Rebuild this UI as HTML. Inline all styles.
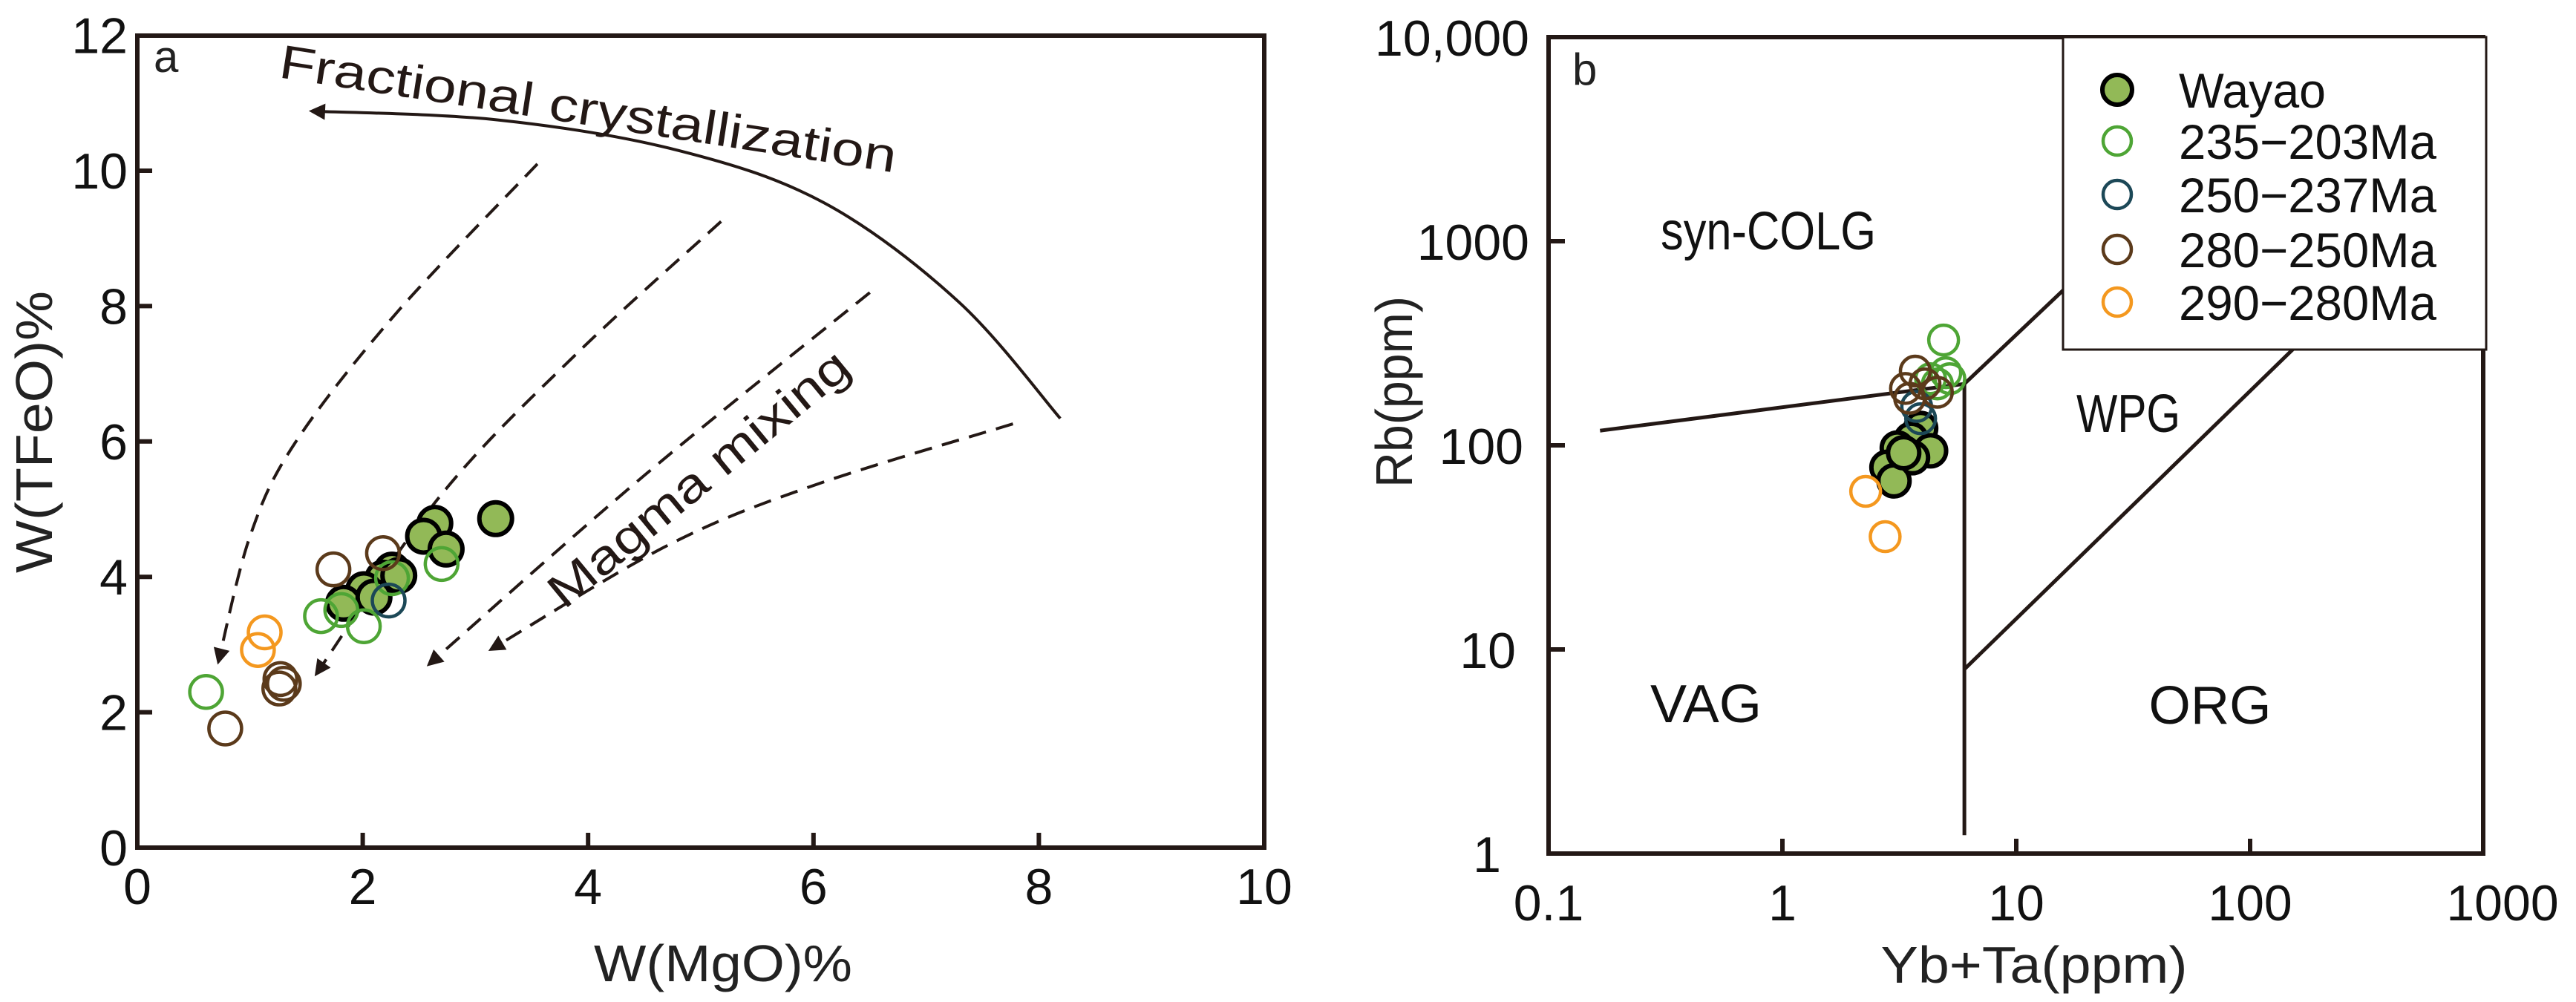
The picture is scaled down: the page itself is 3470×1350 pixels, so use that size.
<!DOCTYPE html>
<html><head><meta charset="utf-8"><style>
html,body{margin:0;padding:0;background:#fff;}
svg{display:block;font-family:"Liberation Sans",Arial,sans-serif;}
</style></head><body>
<svg id="fig" width="3470" height="1350" viewBox="0 0 3470 1350" xmlns="http://www.w3.org/2000/svg">
<defs>
<marker id="ah" viewBox="0 0 10 10" refX="8" refY="5" markerWidth="24" markerHeight="22" orient="auto-start-reverse" markerUnits="userSpaceOnUse"><path d="M0,0 L10,5 L0,10 z" fill="#231815"/></marker>
</defs>
<g id="panelA"></g>
<g id="panelB"></g>
</svg>
<script>
// ---------- Panel a data ----------
const aWayaoX = [2.64,2.54,2.74,3.18,2.26,2.18,2.01,1.83,2.10,2.32];
const aWayaoY = [4.79,4.60,4.41,4.86,4.10,3.98,3.81,3.61,3.70,4.02];
const aG1X = [0.61,1.63,1.81,2.01,2.70,2.26];
const aG1Y = [2.30,3.42,3.51,3.27,4.19,3.98];
const aG2X = [2.23];
const aG2Y = [3.65];
const aG3X = [0.78,1.27,1.26,1.74,2.18,1.30];
const aG3Y = [1.76,2.49,2.35,4.11,4.35,2.42];
const aG4X = [1.13,1.07];
const aG4Y = [3.18,2.92];
const aXTicks = [0,2,4,6,8,10];
const aYTicks = [0,2,4,6,8,10,12];
// ---------- Panel b data ----------
const bWayaoX = [3.9,3.55,4.3,3.1,3.6,2.8,3.0,3.3];
const bWayaoY = [121,107,94,97,87,78,67,92];
const bG1X = [4.89,5.0,5.2,4.3,4.6];
const bG1Y = [328,227,212,212,200];
const bG2X = [3.75,3.9];
const bG2Y = [155,135];
const bG3X = [3.7,3.36,3.5,4.6,4.07];
const bG3Y = [231,190,170,182,200];
const bG4X = [2.27,2.75];
const bG4Y = [59.5,35.7];
const bXTicks = [0.1,1,10,100,1000];
const bXTickLabels = ["0.1","1","10","100","1000"];
const bYTicks = [1,10,100,1000,10000];
const bYTickLabels = ["1","10","100","1000","10,000"];

const NS="http://www.w3.org/2000/svg";
function mk(parent,tag,attrs){const e=document.createElementNS(NS,tag);for(const k in attrs)e.setAttribute(k,attrs[k]);if(attrs.textLength)e.setAttribute('lengthAdjust','spacingAndGlyphs');parent.appendChild(e);return e;}
const COL={wayao:"#92b957",g1:"#4ea535",g2:"#1c4857",g3:"#5b3a1b",g4:"#f4981f",ink:"#231815"};

// ---------- Panel a ----------
const A=document.getElementById('panelA');
const xA=v=>185+v*151.8, yA=v=>1142-v*91.2;
function smooth(pts){let d="M"+pts[0][0]+","+pts[0][1];for(let i=0;i<pts.length-1;i++){const p0=pts[Math.max(i-1,0)],p1=pts[i],p2=pts[i+1],p3=pts[Math.min(i+2,pts.length-1)];const c1=[p1[0]+(p2[0]-p0[0])/6,p1[1]+(p2[1]-p0[1])/6],c2=[p2[0]-(p3[0]-p1[0])/6,p2[1]-(p3[1]-p1[1])/6];d+=` C${c1[0]},${c1[1]} ${c2[0]},${c2[1]} ${p2[0]},${p2[1]}`;}return d;}
const fcCurve=[[8.19,6.34],[7.29,8.06],[6.1,9.52],[4.8,10.3],[3.2,10.75],[1.55,10.88]];
const mix1=[[3.55,10.1],[2.3,7.9],[1.40,5.98],[1.0,4.6],[0.72,2.75]];
const mix2=[[5.18,9.25],[3.9,7.3],[2.70,5.22],[1.59,2.57]];
const mix3=[[6.5,8.2],[4.5,5.5],[2.59,2.71]];
const mix4=[[7.77,6.26],[6.0,5.35],[4.70,4.46],[3.14,2.93]];
let e;
e=mk(A,'rect',{x:185,y:48,width:1518,height:1094,fill:'none',stroke:COL.ink,'stroke-width':6});


aXTicks.forEach(t=>{
  if(t>0&&t<10){e=mk(A,'line',{x1:xA(t),x2:xA(t),y1:1142,y2:1122,stroke:COL.ink,'stroke-width':6});
  
  }
  e=mk(A,'text',{x:xA(t),y:1218,'font-size':68,'text-anchor':'middle',fill:'#111'});e.textContent=t;
  
  
});
aYTicks.forEach(t=>{
  if(t>0&&t<12){e=mk(A,'line',{x1:185,x2:205,y1:yA(t),y2:yA(t),stroke:COL.ink,'stroke-width':6});
  
  }
  e=mk(A,'text',{x:172,y:yA(t)+24,'font-size':68,'text-anchor':'end',fill:'#111'});e.textContent=t;
  
  
});
e=mk(A,'path',{d:smooth(fcCurve.map(p=>[xA(p[0]),yA(p[1])])),fill:'none',stroke:COL.ink,'stroke-width':4,'marker-end':'url(#ah)'});


[mix1,mix2,mix3,mix4].forEach((m,i)=>{
  e=mk(A,'path',{d:smooth(m.map(p=>[xA(p[0]),yA(p[1])])),fill:'none',stroke:COL.ink,'stroke-width':4,'stroke-dasharray':'24 14','marker-end':'url(#ah)'});
  
  
});
e=mk(A,'text',{x:0,y:0,'font-size':64,fill:'#231815',transform:'translate(374,104) rotate(8.8)',textLength:840});e.textContent='Fractional crystallization';


e=mk(A,'text',{x:0,y:0,'font-size':64,fill:'#231815',transform:'translate(760,822) rotate(-39.5)',textLength:505});e.textContent='Magma  mixing';


e=mk(A,'text',{x:207,y:97,'font-size':60,fill:'#222'});e.textContent='a';


e=mk(A,'text',{x:974,y:1322,'font-size':70,'text-anchor':'middle',fill:'#222',textLength:348});e.textContent='W(MgO)%';


e=mk(A,'text',{x:0,y:0,'font-size':70,'text-anchor':'middle',fill:'#222',transform:'translate(70,582) rotate(-90)',textLength:380});e.textContent='W(TFeO)%';



function pts(g,xs,ys,fx,fy,color,filled,name,r){
  xs.forEach((x,i)=>{
    const c=mk(g,'circle',{cx:fx(x),cy:fy(ys[i]),r:r,fill:filled?COL.wayao:'none',stroke:filled?'#000':color,'stroke-width':filled?6:4.5});
    
    
  });
}
pts(A,aWayaoX,aWayaoY,xA,yA,'#000',true,'wayao-point',22);
pts(A,aG1X,aG1Y,xA,yA,COL.g1,false,'point-235-203ma',22);
pts(A,aG2X,aG2Y,xA,yA,COL.g2,false,'point-250-237ma',22);
pts(A,aG3X,aG3Y,xA,yA,COL.g3,false,'point-280-250ma',22);
pts(A,aG4X,aG4Y,xA,yA,COL.g4,false,'point-290-280ma',22);

// ---------- Panel b ----------
const B=document.getElementById('panelB');
const xB=v=>2086+(Math.log10(v)+1)*315, yB=v=>1150-Math.log10(v)*275;
const bndVag=[[0.166,118],[6,200]];
const bndCol=[[6,200],[50,2000]];
const bndOrg=[[6,8],[200,400]];
const bndVert=[[6,200],[6,1.23]];
e=mk(B,'rect',{x:2086,y:50,width:1259,height:1100,fill:'none',stroke:COL.ink,'stroke-width':6});


bXTicks.forEach((t,i)=>{
  if(i>0&&i<4){e=mk(B,'line',{x1:xB(t),x2:xB(t),y1:1150,y2:1130,stroke:COL.ink,'stroke-width':6});
  
  }
  e=mk(B,'text',{x:xB(t)+(i==4?25:0),y:1240,'font-size':68,'text-anchor':'middle',fill:'#111'});e.textContent=bXTickLabels[i];
  
  
});
bYTicks.forEach((t,i)=>{
  if(i>0&&i<4){e=mk(B,'line',{x1:2086,x2:2108,y1:yB(t),y2:yB(t),stroke:COL.ink,'stroke-width':6});
  
  }
  e=mk(B,'text',{x:2060-(i==0?38:0)-(i==1?18:0)-(i==2?8:0),y:yB(t)+25,'font-size':68,'text-anchor':'end',fill:'#111'});e.textContent=bYTickLabels[i];
  
  
});
[[bndVag,'vag-syncolg-boundary'],[bndCol,'syncolg-wpg-boundary'],[bndOrg,'wpg-org-boundary'],[bndVert,'vag-org-boundary']].forEach(([p,n])=>{
  e=mk(B,'line',{x1:xB(p[0][0]),y1:yB(p[0][1]),x2:xB(p[1][0]),y2:yB(p[1][1]),stroke:COL.ink,'stroke-width':5});
  
  
});
[['syn-COLG',2382,336,'field-label-syn-colg',290],['WPG',2867,582,'field-label-wpg',140],['VAG',2298,973,'field-label-vag',150],['ORG',2977,975,'field-label-org',165]].forEach(([t,x,y,n,w])=>{
  e=mk(B,'text',{x:x,y:y,'font-size':72,'text-anchor':'middle',fill:'#111',textLength:w});e.textContent=t;
  
  
});
e=mk(B,'text',{x:2118,y:114,'font-size':60,fill:'#222'});e.textContent='b';


e=mk(B,'text',{x:2740,y:1324,'font-size':70,'text-anchor':'middle',fill:'#222',textLength:413});e.textContent='Yb+Ta(ppm)';


e=mk(B,'text',{x:0,y:0,'font-size':70,'text-anchor':'middle',fill:'#222',transform:'translate(1902,528) rotate(-90)',textLength:258});e.textContent='Rb(ppm)';


pts(B,bWayaoX,bWayaoY,xB,yB,'#000',true,'wayao-point',21);
pts(B,bG1X,bG1Y,xB,yB,COL.g1,false,'point-235-203ma',20);
pts(B,bG2X,bG2Y,xB,yB,COL.g2,false,'point-250-237ma',20);
pts(B,bG3X,bG3Y,xB,yB,COL.g3,false,'point-280-250ma',20);
pts(B,bG4X,bG4Y,xB,yB,COL.g4,false,'point-290-280ma',20);

// legend
const L=mk(B,'g',{});


e=mk(L,'rect',{x:2779,y:50,width:570,height:421,fill:'#fff',stroke:COL.ink,'stroke-width':3});


const legNames=['Wayao','235\u2212203Ma','250\u2212237Ma','280\u2212250Ma','290\u2212280Ma'];
const legCols=['#000',COL.g1,COL.g2,COL.g3,COL.g4];
const legY=[121,190,262,336,407];
legNames.forEach((nm,i)=>{
  const g=mk(L,'g',{});
  
  
  e=mk(g,'circle',{cx:2852,cy:legY[i],r:i==0?20:19,fill:i==0?COL.wayao:'none',stroke:legCols[i],'stroke-width':i==0?6:4.5});
  
  
  e=mk(g,'text',{x:2935,y:legY[i]+24,'font-size':66,fill:'#111',textLength:i==0?198:347});e.textContent=nm;
  
  
});
</script>
</body></html>
